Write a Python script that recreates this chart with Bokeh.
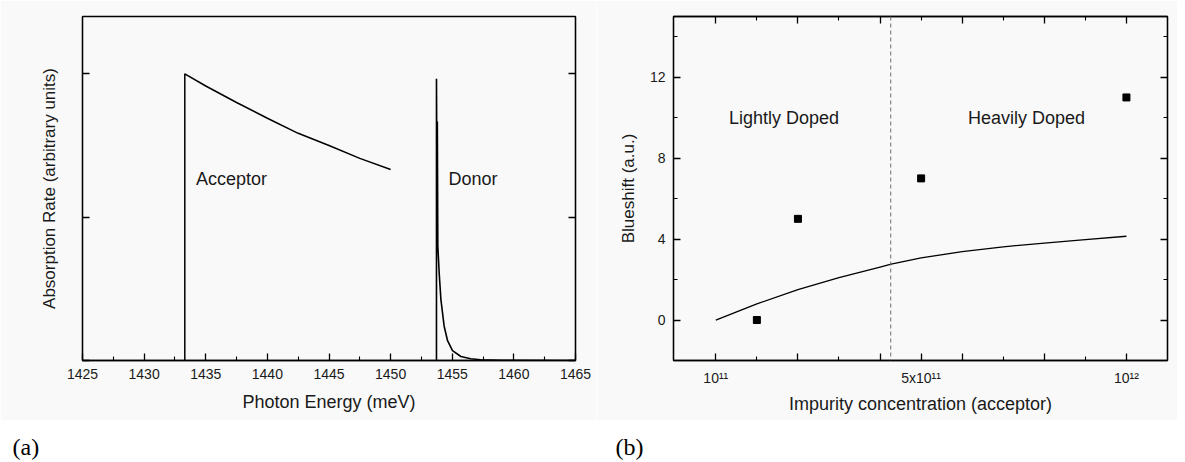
from bokeh.plotting import figure
from bokeh.models import Range1d, FixedTicker, LinearAxis, Span, Label
from bokeh.layouts import column, row
from bokeh.embed import file_html
from bokeh.resources import INLINE

# ---------------- panel (a): absorption spectrum ----------------
energy_ticks = [1425, 1430, 1435, 1440, 1445, 1450, 1455, 1460, 1465]
energy_minor_ticks = [1427.5, 1432.5, 1437.5, 1442.5, 1447.5, 1452.5, 1457.5, 1462.5]
absorption_ticks = [0, 1, 2]

acceptor_energy = [1433.3, 1433.3, 1435.0, 1437.5, 1440.0, 1442.5, 1445.0, 1447.5, 1450.0]
acceptor_rate = [0.0, 2.0, 1.915, 1.80, 1.69, 1.585, 1.50, 1.41, 1.333]

donor_energy = [1453.72, 1453.72, 1453.76, 1453.79, 1453.83, 1453.94, 1454.08, 1454.34,
                1454.62, 1455.02, 1455.7, 1456.5, 1457.3, 1459.0, 1465.0]
donor_rate = [0.0, 1.966, 1.20, 1.667, 0.80, 0.61, 0.425, 0.241,
              0.138, 0.069, 0.028, 0.012, 0.005, 0.001, 0.0]

panel_a_labels = ["Acceptor", "Donor"]
panel_a_label_x = [1434.2, 1454.7]
panel_a_label_y = [1.263, 1.263]

# ---------------- panel (b): blueshift vs concentration ----------------
conc_major_ticks = [0, 2, 4, 5, 6, 8, 10]
conc_minor_ticks = [1, 3, 5, 7, 9]
conc_tick_labels = {0: "10\u00b9\u00b9", 2: "", 4: "", 5: "5x10\u00b9\u00b9", 6: "", 8: "", 10: "10\u00b9\u00b2"}
blueshift_ticks = [0, 4, 8, 12]
blueshift_minor_ticks = [2, 6, 10, 14]

measured_conc = [1, 2, 5, 10]
measured_blueshift = [0, 5, 7, 11]

fit_conc = [0, 1, 2, 3, 4, 4.27, 5, 6, 7, 8, 9, 10]
fit_blueshift = [0.0, 0.8, 1.5, 2.1, 2.62, 2.76, 3.07, 3.38, 3.62, 3.8, 3.97, 4.14]

doping_boundary = 4.26
region_labels = ["Lightly Doped", "Heavily Doped"]
region_label_x = [0.32, 6.14]
region_label_y = [10.0, 10.0]

panel_captions = ["(a)", "(b)"]

FONT = "Liberation Sans"
TXT = "#1a1a1a"
BG = "#f9f9f9"


def style_axis(ax, ticks, minor, overrides=None, label_size="14px"):
    ax.ticker = FixedTicker(ticks=ticks, minor_ticks=minor)
    ax.major_tick_in = 7
    ax.major_tick_out = 0
    ax.minor_tick_in = 4
    ax.minor_tick_out = 0
    ax.major_tick_line_color = "black"
    ax.minor_tick_line_color = "black"
    ax.major_tick_line_width = 1.3
    ax.minor_tick_line_width = 1.1
    ax.axis_line_color = "black"
    ax.axis_line_width = 1.3
    ax.major_label_text_font = FONT
    ax.major_label_text_font_size = label_size
    ax.major_label_text_color = TXT
    ax.axis_label_text_font = FONT
    ax.axis_label_text_font_style = "normal"
    ax.axis_label_text_color = TXT
    if overrides is not None:
        ax.major_label_overrides = overrides


# ---- figure (a)
pa = figure(width=596, height=420, output_backend="svg", toolbar_location=None,
            x_range=Range1d(1425, 1465), y_range=Range1d(0, 2.4),
            min_border_left=82, min_border_right=21, min_border_top=14, min_border_bottom=59,
            background_fill_color=BG, border_fill_color=BG,
            outline_line_color="black", outline_line_width=1.3)
pa.grid.visible = False
style_axis(pa.xaxis[0], energy_ticks, energy_minor_ticks)
pa.xaxis[0].axis_label = "Photon Energy (meV)"
pa.xaxis[0].axis_label_text_font_size = "18px"
pa.xaxis[0].major_label_standoff = 8
pa.xaxis[0].axis_label_standoff = 10
style_axis(pa.yaxis[0], absorption_ticks, [], {t: "" for t in absorption_ticks})
pa.yaxis[0].axis_label = "Absorption Rate (arbitrary units)"
pa.yaxis[0].axis_label_text_font_size = "17px"
pa.yaxis[0].major_label_standoff = 0
pa.yaxis[0].axis_label_standoff = 24
ra = LinearAxis()
style_axis(ra, absorption_ticks, [], {t: "" for t in absorption_ticks})
ra.major_label_standoff = 0
pa.add_layout(ra, "right")

pa.line(acceptor_energy, acceptor_rate, line_color="black", line_width=1.5)
pa.line(donor_energy, donor_rate, line_color="black", line_width=1.6)
for t, x, y in zip(panel_a_labels, panel_a_label_x, panel_a_label_y):
    pa.add_layout(Label(x=x, y=y, text=t, text_font=FONT, text_font_size="18px",
                        text_color=TXT, text_baseline="alphabetic", text_align="left"))

# ---- figure (b)
pb = figure(width=581, height=420, output_backend="svg", toolbar_location=None,
            x_range=Range1d(-1.03, 11.0), y_range=Range1d(-2, 15),
            min_border_left=77, min_border_right=10, min_border_top=16, min_border_bottom=60,
            background_fill_color=BG, border_fill_color=BG,
            outline_line_color="black", outline_line_width=1.3)
pb.grid.visible = False
style_axis(pb.xaxis[0], conc_major_ticks, conc_minor_ticks, conc_tick_labels)
pb.xaxis[0].axis_label = "Impurity concentration (acceptor)"
pb.xaxis[0].axis_label_text_font_size = "18px"
pb.xaxis[0].major_label_standoff = 9
pb.xaxis[0].axis_label_standoff = 5
style_axis(pb.yaxis[0], blueshift_ticks, blueshift_minor_ticks)
pb.yaxis[0].axis_label = "Blueshift (a.u.)"
pb.yaxis[0].axis_label_text_font_size = "17px"
pb.yaxis[0].major_label_standoff = 8
pb.yaxis[0].axis_label_standoff = 9

tb = LinearAxis()
style_axis(tb, [0, 2, 4, 6, 8, 10], conc_minor_ticks, {t: "" for t in [0, 2, 4, 6, 8, 10]})
tb.major_label_standoff = 0
pb.add_layout(tb, "above")
rb = LinearAxis()
style_axis(rb, blueshift_ticks, blueshift_minor_ticks, {t: "" for t in blueshift_ticks})
rb.major_label_standoff = 0
pb.add_layout(rb, "right")

pb.add_layout(Span(location=doping_boundary, dimension="height", line_color="#6e6e6e",
                   line_dash="4 3", line_width=1))
pb.line(fit_conc, fit_blueshift, line_color="black", line_width=1.3)
pb.scatter(measured_conc, measured_blueshift, marker="square", size=7,
           fill_color="black", line_color="black")
for t, x, y in zip(region_labels, region_label_x, region_label_y):
    pb.add_layout(Label(x=x, y=y, text=t, text_font=FONT, text_font_size="18px",
                        text_color=TXT, text_baseline="alphabetic", text_align="left"))

# ---- panel captions
pc = figure(width=1177, height=42, output_backend="svg", toolbar_location=None,
            x_range=Range1d(0, 1177), y_range=Range1d(0, 42),
            x_axis_location=None, y_axis_location=None, min_border=0,
            outline_line_color=None, background_fill_color="white", border_fill_color="white")
pc.grid.visible = False
for t, x in zip(panel_captions, [12, 615]):
    pc.add_layout(Label(x=x, y=16, x_units="screen", y_units="screen", text=t,
                        text_font="Liberation Serif", text_font_size="24px",
                        text_color="black", text_baseline="alphabetic"))

layout = column(row(pa, pb, spacing=0), pc, spacing=0)
open("out.html", "w").write(file_html(layout, INLINE))
